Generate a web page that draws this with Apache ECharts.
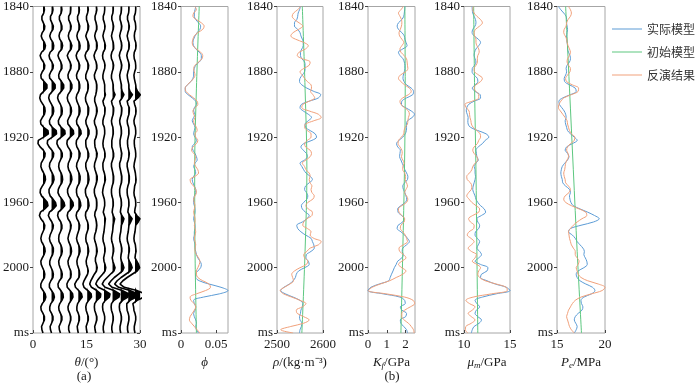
<!DOCTYPE html>
<html>
<head>
<meta charset="utf-8">
<script src="https://cdn.jsdelivr.net/npm/echarts@6/dist/echarts.min.js"></script>
<style>
html, body { margin: 0; padding: 0; background: #fff; }
#chart { width: 700px; height: 385px; }
</style>
</head>
<body>
<div id="chart"></div>
<script>
// time samples: 1840 ms, every 2 ms
const t0 = 1840;
const dt = 2;
const yTicks = [1840, 1880, 1920, 1960, 2000, 2040];
const names = ['实际模型', '初始模型', '反演结果'];

// (a) angle gather: trace positions (deg) and wiggle amplitude (deg) per sample
const angles = [2.8, 5.2, 7.7, 10.3, 12.7, 15.2, 17.6, 19.9, 22.3, 24.6, 26.7, 28.6];
const trace1 = [0.3,0.4,0.2,-0.3,-0.3,0.1,0.5,0.4,-0.2,-0.5,
 -0.2,0.4,0.7,0.5,-0.4,-0.8,-0.5,0.1,0.5,0.4,
 -0.2,-0.6,-0.5,0.3,1.1,1.1,0.2,-0.7,-0.9,-0.6,
 0.0,0.5,0.6,0.4,-0.2,-0.7,-0.6,0.2,1.4,1.5,
 0.2,-1.3,-1.4,-0.8,0.1,0.6,0.5,0.0,-0.5,-0.6,
 -0.3,0.2,0.6,0.7,0.4,-0.2,-0.7,-0.8,-0.4,0.4,
 1.2,1.4,0.5,-0.7,-1.0,-0.6,0.1,0.5,0.4,0.0,
 -0.4,-0.6,-0.4,0.1,0.5,0.6,0.3,-0.2,-0.6,-0.5,
 -0.1,0.3,0.5,0.4,-0.2,-0.6,-0.6,0.0,0.6,0.8,
 0.5,-0.2,-0.6,-0.5,0.0,0.4,0.4,0.0,-0.4,-0.3,
 0.0];
const trace2 = [0.3,0.4,0.2,-0.3,-0.3,0.1,0.5,0.4,-0.2,-0.5,
 -0.2,0.4,0.6,0.5,-0.4,-0.7,-0.5,0.1,0.5,0.4,
 -0.2,-0.6,-0.5,0.3,1.0,1.0,0.2,-0.6,-0.8,-0.5,
 0.0,0.5,0.6,0.4,-0.2,-0.6,-0.5,0.2,1.3,1.4,
 0.2,-1.1,-1.2,-0.7,0.1,0.6,0.5,0.0,-0.5,-0.6,
 -0.3,0.2,0.6,0.7,0.4,-0.2,-0.7,-0.7,-0.4,0.4,
 1.1,1.3,0.5,-0.6,-0.9,-0.5,0.1,0.5,0.4,0.0,
 -0.4,-0.6,-0.4,0.1,0.5,0.5,0.3,-0.2,-0.5,-0.5,
 -0.1,0.3,0.5,0.4,-0.2,-0.6,-0.6,0.0,0.6,0.8,
 0.5,-0.2,-0.5,-0.5,0.0,0.4,0.4,0.0,-0.4,-0.3,
 0.0];
const trace3 = [0.3,0.4,0.2,-0.3,-0.3,0.1,0.4,0.4,-0.2,-0.4,
 -0.2,0.4,0.6,0.4,-0.4,-0.7,-0.4,0.1,0.4,0.4,
 -0.2,-0.5,-0.4,0.3,0.9,0.9,0.2,-0.6,-0.8,-0.5,
 0.0,0.4,0.5,0.4,-0.2,-0.6,-0.5,0.2,1.2,1.3,
 0.2,-0.9,-1.0,-0.6,0.1,0.5,0.5,0.0,-0.4,-0.5,
 -0.3,0.2,0.5,0.6,0.4,-0.2,-0.6,-0.7,-0.3,0.4,
 1.0,1.2,0.4,-0.6,-0.8,-0.5,0.1,0.4,0.4,0.0,
 -0.4,-0.5,-0.4,0.1,0.4,0.5,0.3,-0.2,-0.5,-0.4,
 -0.1,0.3,0.5,0.4,-0.3,-0.7,-0.6,0.1,0.7,0.8,
 0.4,-0.2,-0.5,-0.4,0.0,0.4,0.4,0.0,-0.4,-0.3,
 0.0];
const trace4 = [0.3,0.3,0.2,-0.3,-0.3,0.1,0.4,0.3,-0.2,-0.4,
 -0.2,0.3,0.6,0.4,-0.3,-0.7,-0.4,0.1,0.4,0.3,
 -0.2,-0.5,-0.4,0.2,0.6,0.6,0.1,-0.5,-0.7,-0.5,
 0.0,0.4,0.5,0.3,-0.2,-0.6,-0.5,0.2,1.0,1.1,
 0.1,-0.7,-0.8,-0.5,0.1,0.5,0.4,0.0,-0.4,-0.5,
 -0.3,0.2,0.5,0.6,0.3,-0.2,-0.6,-0.6,-0.3,0.3,
 0.9,1.0,0.4,-0.5,-0.7,-0.5,0.1,0.4,0.3,0.0,
 -0.3,-0.5,-0.3,0.1,0.4,0.5,0.3,-0.2,-0.5,-0.4,
 -0.1,0.3,0.4,0.3,-0.4,-0.8,-0.7,0.1,0.8,0.9,
 0.4,-0.2,-0.5,-0.4,0.0,0.3,0.3,0.0,-0.3,-0.3,
 0.0];
const trace5 = [0.2,0.3,0.2,-0.2,-0.2,0.1,0.4,0.3,-0.2,-0.4,
 -0.2,0.3,0.5,0.4,-0.3,-0.6,-0.4,0.1,0.4,0.3,
 -0.2,-0.5,-0.4,0.2,0.4,0.4,0.1,-0.4,-0.6,-0.4,
 0.0,0.4,0.5,0.3,-0.2,-0.5,-0.4,0.2,0.7,0.8,
 0.1,-0.5,-0.6,-0.4,0.1,0.5,0.4,0.0,-0.4,-0.5,
 -0.2,0.2,0.5,0.5,0.3,-0.2,-0.5,-0.5,-0.3,0.3,
 0.6,0.7,0.3,-0.4,-0.6,-0.4,0.1,0.4,0.3,0.0,
 -0.3,-0.5,-0.3,0.1,0.4,0.5,0.2,-0.2,-0.4,-0.3,
 0.0,0.3,0.4,0.2,-0.5,-1.0,-0.8,0.1,0.9,1.1,
 0.4,-0.2,-0.4,-0.4,0.0,0.3,0.3,0.0,-0.3,-0.2,
 0.0];
const trace6 = [0.2,0.3,0.1,-0.2,-0.2,0.1,0.4,0.3,-0.1,-0.4,
 -0.1,0.3,0.5,0.4,-0.3,-0.6,-0.4,0.1,0.4,0.3,
 -0.1,-0.4,-0.4,0.1,0.3,0.3,0.1,-0.3,-0.5,-0.4,
 0.0,0.4,0.4,0.3,-0.1,-0.4,-0.3,0.1,0.5,0.5,
 0.1,-0.4,-0.4,-0.3,0.1,0.4,0.4,0.0,-0.4,-0.4,
 -0.2,0.2,0.4,0.5,0.3,-0.1,-0.5,-0.5,-0.3,0.2,
 0.4,0.5,0.2,-0.4,-0.5,-0.3,0.1,0.3,0.3,0.0,
 -0.3,-0.4,-0.3,0.1,0.3,0.4,0.2,-0.1,-0.3,-0.2,
 0.1,0.3,0.1,-0.4,-0.9,-1.2,-0.9,0.2,1.1,1.2,
 0.4,-0.2,-0.4,-0.3,0.0,0.3,0.3,0.0,-0.3,-0.2,
 0.0];
const trace7 = [0.2,0.3,0.1,-0.2,-0.2,0.1,0.3,0.3,-0.1,-0.3,
 -0.1,0.3,0.4,0.3,-0.2,-0.5,-0.3,0.1,0.3,0.3,
 -0.1,-0.4,-0.3,0.1,0.3,0.3,0.2,0.0,-0.3,-0.3,
 0.0,0.3,0.4,0.2,-0.1,-0.4,-0.3,0.1,0.3,0.3,
 0.1,-0.3,-0.3,-0.2,0.1,0.4,0.3,0.0,-0.3,-0.4,
 -0.2,0.1,0.4,0.4,0.2,-0.1,-0.4,-0.4,-0.2,0.2,
 0.3,0.3,0.2,-0.2,-0.3,0.0,0.2,0.3,0.2,0.0,
 -0.3,-0.4,-0.2,0.1,0.3,0.4,0.2,-0.1,-0.1,0.2,
 0.4,0.2,-0.4,-0.9,-1.4,-1.7,-1.2,0.3,1.4,1.3,
 0.3,-0.3,-0.4,-0.3,0.0,0.3,0.3,0.0,-0.3,-0.2,
 0.0];
const trace8 = [0.2,0.2,0.1,-0.2,-0.2,0.1,0.3,0.2,-0.1,-0.3,
 -0.1,0.2,0.4,0.3,-0.2,-0.4,-0.3,0.1,0.3,0.2,
 -0.1,-0.3,-0.3,0.0,0.2,0.2,0.2,0.4,0.1,-0.3,
 -0.1,0.3,0.3,0.2,-0.1,-0.3,-0.3,0.1,0.2,0.2,
 0.0,-0.2,-0.3,-0.2,0.1,0.3,0.3,0.0,-0.3,-0.3,
 -0.2,0.1,0.3,0.4,0.2,-0.1,-0.3,-0.4,-0.2,0.1,
 0.2,0.2,0.0,-0.2,0.1,0.4,0.3,0.2,0.1,0.0,
 -0.2,-0.3,-0.2,0.1,0.3,0.3,0.1,-0.1,0.0,0.3,
 0.5,0.3,-0.4,-1.2,-1.9,-2.3,-1.6,0.3,1.7,1.5,
 0.4,-0.3,-0.4,-0.3,0.0,0.2,0.2,0.0,-0.2,-0.2,
 0.0];
const trace9 = [0.2,0.2,0.1,-0.2,-0.2,0.1,0.3,0.2,-0.1,-0.3,
 -0.1,0.2,0.3,0.3,-0.2,-0.4,-0.3,0.1,0.3,0.2,
 -0.1,-0.3,-0.3,0.0,0.2,0.2,0.3,0.7,0.3,-0.3,
 -0.1,0.3,0.3,0.2,-0.1,-0.3,-0.2,0.1,0.2,0.2,
 0.0,-0.2,-0.2,-0.2,0.1,0.3,0.3,0.0,-0.3,-0.3,
 -0.1,0.1,0.3,0.3,0.2,-0.1,-0.3,-0.3,-0.2,0.1,
 0.2,0.2,0.0,-0.1,0.2,0.6,0.4,0.2,0.1,0.0,
 -0.2,-0.3,-0.2,0.1,0.3,0.3,0.1,-0.1,0.1,0.4,
 0.7,0.4,-0.6,-1.5,-2.4,-2.9,-2.1,0.4,2.0,1.8,
 0.4,-0.3,-0.4,-0.3,0.0,0.2,0.2,0.0,-0.2,-0.2,
 0.0];
const trace10 = [0.2,0.2,0.1,-0.2,-0.2,0.1,0.3,0.2,-0.1,-0.3,
 -0.1,0.2,0.3,0.2,-0.2,-0.4,-0.2,0.1,0.3,0.2,
 -0.1,-0.3,-0.2,0.0,0.2,0.2,0.4,0.9,0.4,-0.3,
 -0.1,0.3,0.3,0.2,-0.1,-0.3,-0.2,0.1,0.2,0.2,
 0.0,-0.2,-0.2,-0.1,0.1,0.3,0.2,0.0,-0.3,-0.3,
 -0.1,0.1,0.3,0.3,0.2,-0.1,-0.3,-0.3,-0.2,0.1,
 0.2,0.2,0.0,-0.1,0.3,0.9,0.6,0.2,0.1,0.0,
 -0.2,-0.3,-0.2,0.1,0.3,0.3,0.1,0.0,0.2,0.6,
 0.9,0.5,-0.6,-1.8,-2.7,-3.4,-2.4,0.4,2.2,2.0,
 0.5,-0.3,-0.4,-0.3,0.0,0.2,0.2,0.0,-0.2,-0.2,
 0.0];
const trace11 = [0.2,0.2,0.1,-0.2,-0.2,0.1,0.3,0.2,-0.1,-0.3,
 -0.1,0.2,0.3,0.2,-0.2,-0.4,-0.2,0.1,0.3,0.2,
 -0.1,-0.3,-0.2,0.0,0.2,0.2,0.5,1.2,0.6,-0.3,
 -0.1,0.3,0.3,0.2,-0.1,-0.3,-0.2,0.1,0.2,0.2,
 0.0,-0.2,-0.2,-0.1,0.1,0.3,0.2,0.0,-0.3,-0.3,
 -0.1,0.1,0.3,0.3,0.2,-0.1,-0.3,-0.3,-0.2,0.1,
 0.2,0.2,0.0,-0.1,0.4,1.1,0.7,0.2,0.1,0.0,
 -0.2,-0.3,-0.2,0.1,0.3,0.3,0.1,0.0,0.3,0.8,
 1.1,0.6,-0.7,-2.0,-3.1,-3.8,-2.7,0.5,2.5,2.3,
 0.5,-0.4,-0.4,-0.3,0.0,0.2,0.2,0.0,-0.2,-0.2,
 0.0];
const trace12 = [0.2,0.2,0.1,-0.2,-0.2,0.1,0.2,0.2,-0.1,-0.2,
 -0.1,0.2,0.3,0.2,-0.2,-0.3,-0.2,0.1,0.2,0.2,
 -0.1,-0.3,-0.2,0.0,0.2,0.3,0.7,1.5,0.8,-0.3,
 -0.1,0.2,0.3,0.2,-0.1,-0.3,-0.2,0.1,0.2,0.2,
 0.0,-0.2,-0.2,-0.1,0.1,0.2,0.2,0.0,-0.2,-0.3,
 -0.1,0.1,0.2,0.3,0.2,-0.1,-0.2,-0.3,-0.2,0.1,
 0.2,0.2,0.0,-0.1,0.5,1.4,0.9,0.2,0.1,0.0,
 -0.2,-0.3,-0.2,0.1,0.2,0.3,0.1,0.0,0.5,1.0,
 1.3,0.6,-0.8,-2.2,-3.4,-4.2,-3.0,0.5,2.8,2.5,
 0.6,-0.6,-0.4,-0.3,0.0,0.2,0.2,0.0,-0.2,-0.2,
 0.0];
const traces = [trace1, trace2, trace3, trace4, trace5, trace6, trace7, trace8, trace9, trace10, trace11, trace12];

// (b) logs, one value every 2 ms; initial model is a smooth trend
const initT = [1840, 1890, 1940, 1990, 2040];

const phiTrue = [0.021,0.020,0.019,0.019,0.021,0.025,0.028,0.027,0.023,0.020,
 0.018,0.017,0.018,0.021,0.026,0.029,0.029,0.026,0.021,0.019,
 0.018,0.018,0.017,0.014,0.009,0.006,0.006,0.010,0.016,0.021,
 0.022,0.019,0.018,0.020,0.018,0.016,0.018,0.020,0.019,0.018,
 0.020,0.022,0.019,0.016,0.017,0.020,0.022,0.023,0.020,0.018,
 0.020,0.021,0.018,0.016,0.017,0.019,0.021,0.021,0.019,0.018,
 0.018,0.019,0.020,0.020,0.019,0.018,0.019,0.020,0.020,0.019,
 0.019,0.018,0.019,0.020,0.020,0.021,0.022,0.024,0.027,0.029,
 0.028,0.024,0.021,0.021,0.026,0.040,0.057,0.067,0.055,0.032,
 0.018,0.019,0.021,0.020,0.018,0.019,0.021,0.022,0.021,0.022,
 0.025];
const phiInit = [0.026, 0.022, 0.0195, 0.020, 0.022];
const phiInv = [0.020,0.022,0.018,0.017,0.022,0.029,0.033,0.031,0.024,0.019,
 0.017,0.016,0.017,0.022,0.028,0.031,0.030,0.025,0.020,0.018,
 0.019,0.020,0.018,0.014,0.009,0.006,0.007,0.012,0.018,0.023,
 0.024,0.020,0.017,0.018,0.020,0.018,0.019,0.022,0.023,0.020,
 0.021,0.024,0.022,0.017,0.015,0.018,0.021,0.020,0.019,0.021,
 0.024,0.025,0.020,0.013,0.014,0.018,0.021,0.022,0.020,0.018,
 0.019,0.020,0.019,0.018,0.019,0.020,0.020,0.019,0.020,0.021,
 0.020,0.019,0.020,0.021,0.020,0.020,0.022,0.025,0.027,0.026,
 0.024,0.022,0.022,0.024,0.031,0.040,0.042,0.035,0.022,0.013,
 0.014,0.019,0.021,0.019,0.016,0.013,0.012,0.015,0.019,0.023,
 0.027];

const rhoTrue = [2551,2549,2546,2545,2543,2538,2538,2545,2550,2552,
 2555,2557,2557,2554,2551,2551,2554,2560,2561,2561,
 2560,2555,2550,2549,2554,2565,2580,2595,2590,2570,
 2553,2550,2557,2568,2575,2568,2561,2562,2572,2583,
 2586,2576,2558,2552,2557,2564,2566,2560,2550,2554,
 2558,2563,2572,2577,2570,2562,2560,2564,2567,2565,
 2558,2553,2555,2562,2570,2565,2555,2543,2545,2552,
 2562,2574,2577,2580,2581,2574,2564,2563,2568,2570,
 2560,2547,2542,2540,2535,2527,2515,2508,2518,2535,
 2550,2556,2555,2552,2551,2549,2550,2554,2553,2550,
 2549];
const rhoInit = [2555, 2561, 2565, 2561, 2554];
const rhoInv = [2551,2545,2536,2533,2538,2548,2556,2547,2535,2530,
 2540,2558,2568,2562,2548,2544,2555,2572,2570,2558,
 2550,2555,2560,2566,2574,2575,2573,2578,2582,2570,
 2556,2554,2570,2590,2596,2580,2562,2560,2566,2574,
 2574,2566,2560,2562,2572,2575,2572,2563,2555,2560,
 2563,2570,2572,2570,2572,2576,2574,2576,2581,2578,
 2567,2563,2568,2577,2576,2565,2558,2556,2566,2574,
 2572,2580,2596,2590,2572,2565,2558,2560,2567,2564,
 2550,2538,2532,2534,2536,2528,2516,2507,2514,2532,
 2550,2563,2555,2542,2544,2558,2570,2558,2530,2508,
 2535];

const kTrue = [1.96,1.95,1.93,1.90,1.80,1.62,1.55,1.62,1.80,1.93,
 1.96,2.02,2.08,1.85,1.62,1.70,1.86,1.93,1.96,1.96,
 1.93,1.88,1.86,1.92,2.05,2.30,2.42,2.38,2.05,1.80,
 1.78,2.00,2.30,2.47,2.35,2.10,2.05,2.05,2.04,1.98,
 1.85,1.65,1.52,1.58,1.72,1.70,1.68,1.75,1.82,1.90,
 1.96,2.05,2.12,2.10,1.95,1.85,1.88,1.96,2.02,2.06,
 1.98,1.75,1.58,1.60,1.78,1.92,1.85,1.60,1.55,1.75,
 1.95,2.10,2.20,2.05,1.85,1.82,1.88,1.80,1.58,1.50,
 1.40,1.33,1.25,1.18,1.10,0.60,0.15,0.00,0.80,1.70,
 1.95,1.98,1.72,1.80,2.05,2.00,1.72,1.75,1.90,2.05,
 2.10];
const kInit = [1.96, 1.98, 1.94, 1.85, 1.75];
const kInv = [1.88,1.75,1.62,1.70,1.78,1.80,1.78,1.72,1.65,1.68,
 1.80,1.90,1.80,1.70,1.75,1.92,2.05,2.08,2.10,2.12,
 2.00,1.72,1.62,1.75,1.95,2.20,2.30,2.15,1.85,1.70,
 1.75,1.95,2.15,2.20,2.15,2.12,2.10,1.98,1.92,1.90,
 1.78,1.62,1.60,1.70,1.80,1.82,1.78,1.85,1.92,1.85,
 1.85,1.95,2.00,1.98,2.05,2.10,2.02,1.95,2.05,2.12,
 2.05,1.80,1.62,1.65,1.80,1.95,1.92,1.75,1.72,1.85,
 1.98,2.05,2.10,1.88,1.65,1.68,1.90,2.02,1.80,1.62,
 1.80,2.02,1.85,1.50,1.15,0.65,0.22,0.02,0.95,1.95,
 2.40,2.48,2.25,1.95,1.80,1.80,1.92,2.15,2.30,2.42,
 2.45];

const muTrue = [10.88,10.90,10.95,11.10,11.25,11.30,11.20,10.95,10.88,11.10,
 11.55,11.80,11.60,11.30,11.15,11.10,11.20,11.30,11.15,10.90,
 10.88,11.10,11.45,11.50,11.20,10.90,11.20,11.75,11.80,11.10,
 10.50,10.30,10.25,10.35,10.45,10.42,10.45,10.70,11.50,12.40,
 12.70,12.30,12.00,11.55,11.30,11.35,11.40,11.55,11.30,11.10,
 11.20,11.20,11.25,11.20,11.10,11.00,10.95,11.05,11.20,11.30,
 11.50,11.80,12.20,12.35,11.90,11.40,11.50,11.70,11.60,11.25,
 11.20,11.45,11.70,11.55,11.40,11.70,11.90,11.60,11.20,11.80,
 12.60,12.50,11.90,11.80,12.50,13.40,14.60,15.00,13.50,12.00,
 11.20,11.40,11.70,11.35,11.20,11.50,11.90,11.65,11.10,10.90,
 10.80];
const muInit = [11.05, 11.15, 11.3, 11.4, 11.5];
const muInv = [11.00,10.95,11.10,11.40,11.80,12.00,11.70,11.25,11.10,11.15,
 11.30,11.30,11.40,11.60,11.65,11.50,11.45,11.45,11.30,11.10,
 11.15,11.60,12.00,11.80,11.30,11.10,11.30,11.60,11.60,10.90,
 10.10,10.25,10.55,10.60,10.65,10.75,10.80,11.00,11.40,11.75,
 11.80,11.60,11.45,11.10,10.95,11.10,11.40,11.50,11.20,10.95,
 10.85,10.60,10.30,10.35,10.70,10.85,10.80,10.50,10.30,10.55,
 10.85,11.30,11.70,11.60,10.95,10.50,10.70,11.10,11.05,10.55,
 10.35,10.75,11.10,10.80,10.45,10.80,11.35,11.20,10.90,11.40,
 11.80,11.60,11.50,11.70,12.30,13.50,14.60,14.70,13.00,11.00,
 10.20,10.60,11.20,10.90,10.45,10.80,11.20,10.80,10.20,10.15,
 10.40];

const peTrue = [15.15,15.40,15.70,15.95,16.00,16.00,16.05,16.10,16.05,16.00,
 16.00,16.05,16.10,16.10,16.20,16.35,16.40,16.30,16.05,15.95,
 16.00,15.90,15.75,15.80,16.30,16.90,17.00,16.40,15.60,15.20,
 15.25,15.50,15.75,15.90,15.95,15.85,15.90,16.00,16.10,16.40,
 16.80,17.10,16.60,16.00,15.85,16.10,16.25,16.10,15.80,15.55,
 15.45,15.40,15.45,15.55,15.60,15.90,16.30,16.40,16.30,16.35,
 16.45,16.70,17.40,18.20,18.90,19.40,18.80,17.50,16.40,16.20,
 16.60,16.90,17.10,17.40,17.70,17.85,17.80,17.95,18.10,18.15,
 17.80,17.20,17.00,17.10,17.40,18.00,18.70,18.95,18.60,17.80,
 17.50,17.55,17.70,17.60,17.20,16.90,16.80,16.95,17.10,17.00,
 16.80];
const peInit = [15.9, 16.3, 16.7, 17.1, 17.55];
const peInv = [16.20,16.40,16.50,16.40,16.15,16.00,15.95,15.75,15.70,15.85,
 16.00,16.05,16.15,16.30,16.40,16.30,16.10,16.05,16.20,16.40,
 16.35,16.10,15.90,16.00,16.60,17.25,17.20,16.50,15.70,15.40,
 15.20,15.15,15.35,15.60,15.85,16.05,16.10,16.20,16.30,16.50,
 16.85,16.80,16.40,16.10,16.00,16.15,16.20,16.05,15.90,15.85,
 15.80,15.70,15.75,15.85,15.90,16.20,16.40,16.25,15.85,15.70,
 15.90,16.50,17.30,18.00,18.10,17.60,17.10,16.70,16.40,16.20,
 16.25,16.30,16.40,16.50,16.70,16.90,16.90,17.10,17.30,17.20,
 17.00,17.10,17.20,17.50,18.20,19.30,20.00,19.70,18.60,17.50,
 16.90,16.60,16.40,16.20,16.10,16.00,16.10,16.20,16.30,16.50,
 16.80];

const colTrue = '#5b9bd5';
const colInit = '#5cc77f';
const colInv = '#f0a07a';
const serif = '"Liberation Serif", "Times New Roman", serif';
const txt = '#1a1a1a';

const chart = echarts.init(document.getElementById('chart'));

const cats = trace1.map((v, i) => String(t0 + i * dt));

const rich = {
  i: { fontFamily: serif, fontStyle: 'italic', fontSize: 13, color: txt, lineHeight: 16 },
  s: { fontFamily: serif, fontStyle: 'italic', fontSize: 9, color: txt, lineHeight: 16, verticalAlign: 'bottom' },
  n: { fontFamily: serif, fontSize: 13, color: txt, lineHeight: 16 }
};

// one entry per panel
const panels = [
  { left: 29, width: 111, min: 0, max: 30, ticks: [0, 15, 30], name: '{i|θ}{n|/(°)}' },
  { left: 181, width: 47, min: 0, max: 0.067, ticks: [0, 0.05], name: '{i|ϕ}' },
  { left: 277, width: 46, min: 2500, max: 2600, ticks: [2500, 2600], name: '{i|ρ}{n|/(kg·m⁻³)}' },
  { left: 368, width: 47, min: 0, max: 2.5, ticks: [0, 1, 2], name: '{i|K}{s|f}{n|/GPa}' },
  { left: 464, width: 46, min: 10, max: 15, ticks: [10, 15], name: '{i|μ}{s|m}{n|/GPa}' },
  { left: 557, width: 48, min: 15, max: 20, ticks: [15, 20], name: '{i|P}{s|e}{n|/MPa}' }
];

const grids = panels.map(p => ({
  left: p.left, width: p.width, top: 5, height: 328,
  show: true, borderColor: '#a6a6a6', borderWidth: 1
}));

const xAxes = panels.map((p, g) => ({
  type: 'value', gridIndex: g, min: p.min, max: p.max,
  axisLine: { show: false }, splitLine: { show: false },
  axisTick: { show: true, inside: true, length: 3, customValues: p.ticks, lineStyle: { color: '#444' } },
  axisLabel: { customValues: p.ticks, margin: 5, fontSize: 13, fontFamily: serif, color: txt, formatter: v => String(v) },
  name: p.name, nameLocation: 'middle', nameGap: 19,
  nameTextStyle: { rich: rich }
}));

const yLabel = v => (String(v) === '2040' ? 'ms' : String(v));

const yAxes = [{
  type: 'category', gridIndex: 0, data: cats, inverse: true, boundaryGap: false,
  axisLine: { show: false }, splitLine: { show: false },
  axisTick: { show: true, inside: false, length: 3, interval: 19, lineStyle: { color: '#444' } },
  axisLabel: { interval: 19, margin: 4, fontSize: 13, fontFamily: serif, color: txt, formatter: yLabel }
}];
for (let g = 1; g < panels.length; g++) {
  yAxes.push({
    type: 'value', gridIndex: g, min: yTicks[0], max: yTicks[yTicks.length - 1], interval: 40, inverse: true,
    axisLine: { show: false }, splitLine: { show: false },
    axisTick: { show: true, inside: false, length: 3, lineStyle: { color: '#444' } },
    axisLabel: { margin: 4, fontSize: 13, fontFamily: serif, color: txt, formatter: yLabel }
  });
}
// right-hand ticks of panel (a)
yAxes.push({
  type: 'category', gridIndex: 0, data: cats, inverse: true, boundaryGap: false, position: 'right',
  axisLine: { show: false }, splitLine: { show: false },
  axisTick: { show: true, inside: true, length: 3, interval: 19, lineStyle: { color: '#444' } },
  axisLabel: { show: false }
});

const series = [];
traces.forEach((tr, k) => {
  series.push({
    type: 'line', xAxisIndex: 0, yAxisIndex: 0, silent: true, symbol: 'none', z: 2,
    data: tr.map((v, i) => [angles[k] + Math.max(v, 0), i]),
    lineStyle: { width: 0 },
    areaStyle: { color: '#000', opacity: 1, origin: angles[k] }
  });
});
traces.forEach((tr, k) => {
  series.push({
    type: 'line', xAxisIndex: 0, yAxisIndex: 0, silent: true, symbol: 'none', z: 3,
    data: tr.map((v, i) => [angles[k] + v, i]),
    lineStyle: { width: 1.6, color: '#000' }
  });
});

const logs = [
  [phiTrue, phiInit, phiInv],
  [rhoTrue, rhoInit, rhoInv],
  [kTrue, kInit, kInv],
  [muTrue, muInit, muInv],
  [peTrue, peInit, peInv]
];
logs.forEach((l, j) => {
  const g = j + 1;
  const base = { type: 'line', xAxisIndex: g, yAxisIndex: g, symbol: 'none', silent: true, smooth: 0.35 };
  series.push(Object.assign({}, base, {
    name: names[0], data: l[0].map((v, i) => [v, t0 + i * dt]),
    itemStyle: { color: colTrue }, lineStyle: { width: 1, color: colTrue }
  }));
  series.push(Object.assign({}, base, {
    name: names[1], data: l[1].map((v, i) => [v, initT[i]]),
    itemStyle: { color: colInit }, lineStyle: { width: 1, color: colInit }
  }));
  series.push(Object.assign({}, base, {
    name: names[2], data: l[2].map((v, i) => [v, t0 + i * dt]),
    itemStyle: { color: colInv }, lineStyle: { width: 1, color: colInv }
  }));
});

chart.setOption({
  animation: false,
  backgroundColor: '#fff',
  grid: grids,
  xAxis: xAxes,
  yAxis: yAxes,
  legend: {
    data: names, orient: 'vertical', left: 612, top: 22, padding: 0,
    icon: 'rect', itemWidth: 30, itemHeight: 1, itemGap: 9,
    textStyle: { fontSize: 12, fontFamily: 'Noto Sans CJK SC', color: '#333', lineHeight: 14 }
  },
  graphic: [
    { type: 'text', x: 84, y: 377, style: { text: '(a)', font: '13px "Liberation Serif", serif', fill: txt, align: 'center', verticalAlign: 'middle', textAlign: 'center', textVerticalAlign: 'middle' } },
    { type: 'text', x: 392, y: 377, style: { text: '(b)', font: '13px "Liberation Serif", serif', fill: txt, align: 'center', verticalAlign: 'middle', textAlign: 'center', textVerticalAlign: 'middle' } }
  ],
  series: series
});
</script>
</body>
</html>
